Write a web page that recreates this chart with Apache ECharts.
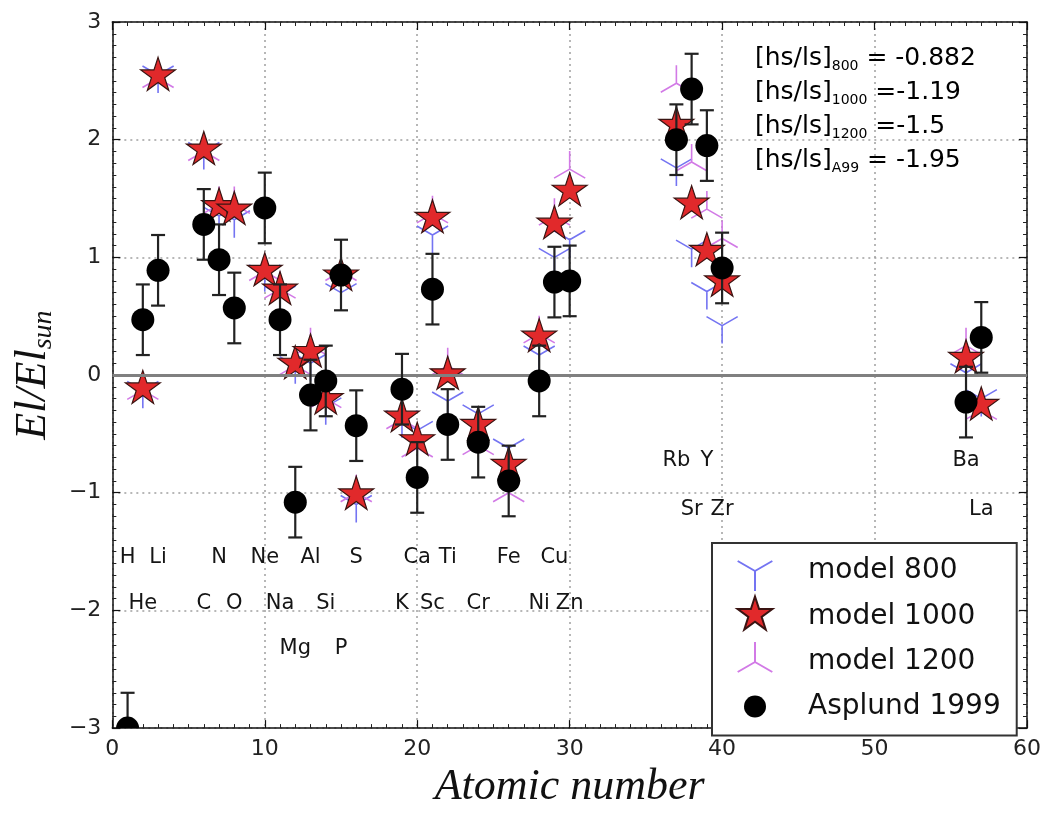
<!DOCTYPE html>
<html>
<head>
<meta charset="utf-8">
<script src="https://cdn.jsdelivr.net/npm/echarts@6/dist/echarts.min.js"></script>
<style>
html,body{margin:0;padding:0;background:#fff;}
#chart{width:1044px;height:814px;}
</style>
</head>
<body>
<div id="chart"></div>
<script>
// ---------------- data ----------------
const elementSymbol = ['H','He','Li','C','N','O','Ne','Na','Mg','Al','Si','P','S','K','Ca','Sc','Ti','Cr','Fe','Ni','Cu','Zn','Rb','Sr','Y','Zr','Ba','La'];
const atomicNumber  = [1,2,3,6,7,8,10,11,12,13,14,15,16,19,20,21,22,24,26,28,29,30,37,38,39,40,56,57];
const asplund1999   = [-3.0,0.47,0.89,1.28,0.98,0.57,1.42,0.47,-1.08,-0.17,-0.05,0.85,-0.43,-0.12,-0.87,0.73,-0.42,-0.57,-0.90,-0.05,0.79,0.80,2.00,2.43,1.95,0.91,-0.23,0.32];
const asplundError  = [0.3,0.3,0.3,0.3,0.3,0.3,0.3,0.3,0.3,0.3,0.3,0.3,0.3,0.3,0.3,0.3,0.3,0.3,0.3,0.3,0.3,0.3,0.3,0.3,0.3,0.3,0.3,0.3];
const model800      = [null,-0.13,2.55,1.90,1.35,1.32,0.86,0.68,0.08,0.10,-0.27,0.70,-1.10,-0.38,-0.47,1.19,-0.22,-0.33,-0.62,0.17,1.00,1.15,1.76,1.07,0.71,0.42,0.02,-0.20];
const model1000     = [null,-0.13,2.53,1.90,1.42,1.39,0.87,0.71,0.08,0.18,-0.22,0.83,-1.03,-0.37,-0.57,1.32,-0.01,-0.44,-0.78,0.31,1.27,1.55,2.11,1.44,1.04,0.78,0.13,-0.27];
const model1200     = [null,-0.13,2.52,1.90,1.45,1.45,0.88,0.73,0.08,0.25,-0.20,0.88,-1.00,-0.38,-0.62,1.37,0.08,-0.60,-1.00,0.35,1.35,1.75,2.48,1.81,1.41,1.16,0.25,-0.30];
const annotationLabels = ['800','1000','1200','A99'];
const annotationValues = [' = -0.882',' =-1.19',' =-1.5',' = -1.95'];
const xTicks = {min:0, max:60, step:10};
const yTicks = {min:-3, max:3, step:1};
// label placement (layout only): level on the y scale where each element name sits
const labelLevel = [-1.55,-1.94,-1.55,-1.94,-1.55,-1.94,-1.55,-1.94,-2.32,-1.55,-1.94,-2.32,-1.55,-1.94,-1.55,-1.94,-1.55,-1.94,-1.55,-1.94,-1.55,-1.94,-0.73,-1.14,-0.73,-1.14,-0.73,-1.14];

// ---------------- helpers ----------------
const pairs = arr => atomicNumber.map((z,i)=> arr[i]==null ? null : [z, arr[i]]).filter(d=>d);
const minus = v => String(v).replace('-', '\u2212');
const STAR = 'path://M0,-100 L22.45,-30.9 L95.11,-30.9 L36.33,11.8 L58.78,80.9 L0,38.2 L-58.78,80.9 L-36.33,11.8 L-95.11,-30.9 L-22.45,-30.9 Z M0,119';
const TRI_DOWN = 'path://M0,0 L0,100 M0,0 L-86.6,-50 M0,0 L86.6,-50 M0,-100';
const TRI_UP = 'path://M0,0 L0,-100 M0,0 L-86.6,50 M0,0 L86.6,50 M0,100';
const DOT = 'path://M-20,-20 M20,20 M0,-11 A11,11 0 1 1 0,11 A11,11 0 1 1 0,-11 Z';
const sans = 'DejaVu Sans';
const serif = 'Liberation Serif';

const chart = echarts.init(document.getElementById('chart'), null, {renderer:'canvas'});

const axisCommon = {
  type:'value',
  axisLine:{show:true, onZero:false, lineStyle:{color:'#111', width:1.5}},
  axisTick:{show:true, inside:true, length:8, lineStyle:{color:'#111', width:1.2}},
  minorTick:{show:true, splitNumber:10, length:4, lineStyle:{color:'#222', width:1}},
};

const annotationText = annotationLabels.map((s,i)=>'{t|[hs/ls]}{s|'+s+'}{t|'+annotationValues[i]+'}').join('\n');

const option = {
  animation:false,
  backgroundColor:'#fff',
  textStyle:{fontFamily:sans},
  grid:{left:108, right:12, top:22, bottom:74, containLabel:false},
  xAxis:[
    Object.assign({}, axisCommon, {
      position:'bottom', min:xTicks.min, max:xTicks.max, interval:xTicks.step,
      name:'Atomic number', nameLocation:'middle', nameGap:21,
      nameTextStyle:{fontFamily:serif, fontStyle:'italic', fontSize:44, color:'#111', verticalAlign:'top'},
      axisLabel:{margin:10, fontSize:22, color:'#222', fontFamily:sans, formatter:minus},
      splitLine:{show:true, lineStyle:{color:'#a0a0a0', type:[2,4], width:1.5}}
    }),
    Object.assign({}, axisCommon, {
      position:'top', min:xTicks.min, max:xTicks.max, interval:xTicks.step,
      axisLabel:{show:false}, splitLine:{show:false}
    })
  ],
  yAxis:[
    Object.assign({}, axisCommon, {
      position:'left', min:yTicks.min, max:yTicks.max, interval:yTicks.step,
      name:'{a|El/El}{b|sun}', nameLocation:'middle', nameGap:48, nameRotate:90,
      nameTextStyle:{padding:[0,0,0,0], rich:{
        a:{fontFamily:serif, fontStyle:'italic', fontSize:44, color:'#111', lineHeight:48},
        b:{fontFamily:serif, fontStyle:'italic', fontSize:28, color:'#111', lineHeight:48, padding:[22,0,0,0]}
      }},
      axisLabel:{margin:11, fontSize:22, color:'#222', fontFamily:sans, formatter:minus},
      splitLine:{show:true, lineStyle:{color:'#a0a0a0', type:[2,4], width:1.5}}
    }),
    Object.assign({}, axisCommon, {
      position:'right', min:yTicks.min, max:yTicks.max, interval:yTicks.step,
      axisLabel:{show:false}, splitLine:{show:false}
    })
  ],
  legend:{
    orient:'vertical', left:712, top:543,
    padding:[7,16,9,23],
    itemWidth:40, itemHeight:40, itemGap:3.5,
    borderColor:'#333', borderWidth:2, backgroundColor:'#fff',
    textStyle:{fontSize:28, fontFamily:sans, color:'#111', padding:[0,0,0,28]},
    data:[
      {name:'model 800'},
      {name:'model 1000'},
      {name:'model 1200'},
      {name:'Asplund 1999', icon:DOT}
    ]
  },
  graphic:[{
    type:'text', left:755, top:44, z:100,
    style:{
      text:annotationText,
      rich:{
        t:{fontFamily:sans, fontSize:25, color:'#111', lineHeight:34},
        s:{fontFamily:sans, fontSize:14, color:'#111', lineHeight:34, padding:[15,0,0,0]}
      }
    }
  }],
  series:[
    {
      name:'labels', type:'scatter', symbolSize:0, z:1, silent:true,
      itemStyle:{opacity:1},
      data: atomicNumber.map((z,i)=>({value:[z, labelLevel[i]], name:elementSymbol[i]})),
      label:{show:true, position:'inside', formatter:p=>p.name, fontSize:21, color:'#151515', opacity:1, fontFamily:sans},
      markLine:{silent:true, symbol:'none', label:{show:false},
        lineStyle:{color:'#808080', width:3, type:'solid', opacity:1},
        data:[{yAxis:0}]}
    },
    {
      name:'model 800', type:'scatter', z:2,
      symbol:TRI_DOWN, symbolSize:36, symbolKeepAspect:true,
      itemStyle:{color:'rgba(0,0,0,0)', borderColor:'#7474f2', borderWidth:1.6, opacity:1},
      data:pairs(model800)
    },
    {
      name:'model 1200', type:'scatter', z:3,
      symbol:TRI_UP, symbolSize:36, symbolKeepAspect:true,
      itemStyle:{color:'rgba(0,0,0,0)', borderColor:'#d27ae6', borderWidth:1.6, opacity:1},
      data:pairs(model1200)
    },
    {
      name:'model 1000', type:'scatter', z:4,
      symbol:STAR, symbolSize:40, symbolKeepAspect:true,
      itemStyle:{color:'#e1292b', borderColor:'#3a1412', borderWidth:1.2, opacity:1},
      data:pairs(model1000)
    },
    {
      name:'errors', type:'custom', z:5, silent:true, clip:true,
      data: atomicNumber.map((z,i)=>[z, asplund1999[i]-asplundError[i], asplund1999[i]+asplundError[i]]),
      renderItem:(params, api)=>{
        const lo = api.coord([api.value(0), api.value(1)]);
        const hi = api.coord([api.value(0), api.value(2)]);
        const cap = 7;
        const st = {stroke:'#222', lineWidth:2.2};
        return {type:'group', children:[
          {type:'line', shape:{x1:lo[0],y1:lo[1],x2:hi[0],y2:hi[1]}, style:st},
          {type:'line', shape:{x1:lo[0]-cap,y1:lo[1],x2:lo[0]+cap,y2:lo[1]}, style:st},
          {type:'line', shape:{x1:hi[0]-cap,y1:hi[1],x2:hi[0]+cap,y2:hi[1]}, style:st}
        ]};
      }
    },
    {
      name:'Asplund 1999', type:'custom', z:6, clip:true,
      itemStyle:{color:'#000'},
      data:pairs(asplund1999),
      renderItem:(params, api)=>{
        const p = api.coord([api.value(0), api.value(1)]);
        return {type:'circle', shape:{cx:p[0], cy:p[1], r:11.5}, style:{fill:'#000'}};
      }
    }
  ]
};
chart.setOption(option);
</script>
</body>
</html>
